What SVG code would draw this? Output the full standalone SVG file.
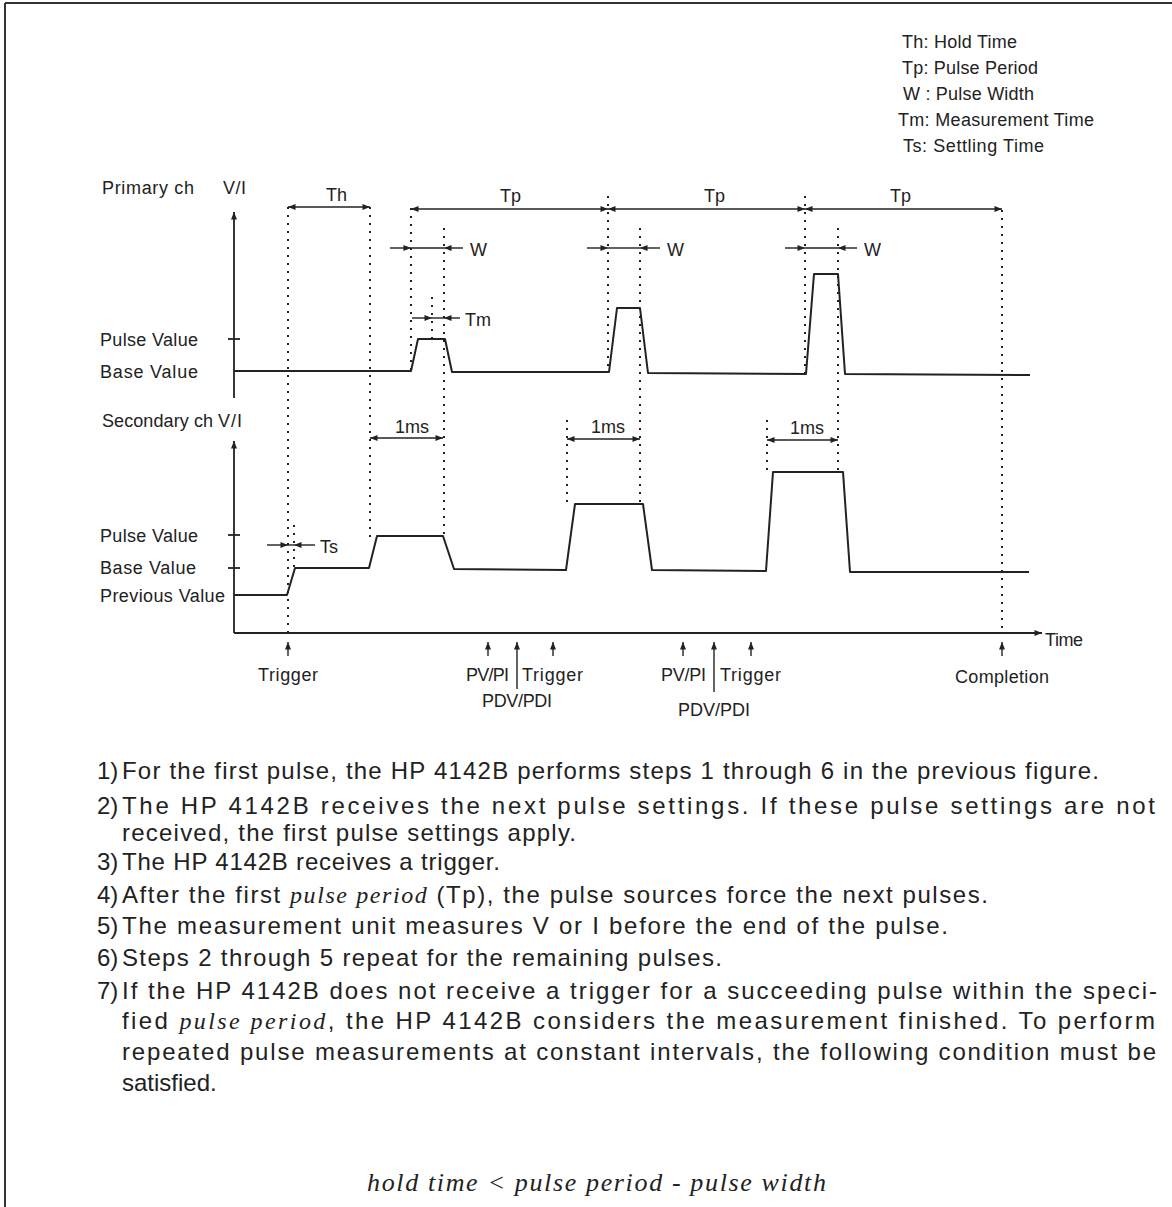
<svg xmlns="http://www.w3.org/2000/svg" width="1172" height="1207" viewBox="0 0 1172 1207">
<defs>
<style>
.t{font-family:"Liberation Sans",Arial,sans-serif;font-size:18px;fill:#222}
.p{font-family:"Liberation Sans",Arial,sans-serif;font-size:24px;fill:#222}
.i{font-family:"Liberation Serif","Times New Roman",serif;font-style:italic}
.ln{fill:none;stroke:#222;stroke-width:1.8}
.dim{fill:none;stroke:#222;stroke-width:1.4}
.dot{fill:none;stroke:#222;stroke-width:2;stroke-dasharray:2 6}
.wave{fill:none;stroke:#222;stroke-width:2;stroke-linejoin:round}
</style>
<marker id="ah" viewBox="0 0 10 8" refX="10" refY="4" markerWidth="9" markerHeight="6" markerUnits="userSpaceOnUse" orient="auto-start-reverse">
<path d="M0,0 L10,4 L0,8 Z" fill="#222"/>
</marker>
</defs>
<rect width="1172" height="1207" fill="#fff"/>
<g id="frame">
<line x1="5" y1="3" x2="1172" y2="3" stroke="#333" stroke-width="2"/>
<line x1="5" y1="3" x2="5" y2="1207" stroke="#333" stroke-width="2"/>
</g>

<g id="legend" class="t">
<text x="902" y="48" textLength="115">Th: Hold Time</text>
<text x="902" y="74" textLength="136">Tp: Pulse Period</text>
<text x="903" y="100" textLength="131">W : Pulse Width</text>
<text x="898" y="126" textLength="196">Tm: Measurement Time</text>
<text x="903" y="152" textLength="141">Ts: Settling Time</text>
</g>

<g id="labels" class="t">
<text x="102" y="194" textLength="92">Primary ch</text>
<text x="223" y="194" textLength="23">V/I</text>
<text x="100" y="346" textLength="98">Pulse Value</text>
<text x="100" y="378" textLength="98">Base Value</text>
<text x="102" y="427" textLength="111">Secondary ch</text>
<text x="218" y="427" textLength="24">V/I</text>
<text x="100" y="542" textLength="98">Pulse Value</text>
<text x="100" y="574" textLength="96">Base Value</text>
<text x="100" y="602" textLength="125">Previous Value</text>
<text x="1045" y="646" textLength="38">Time</text>
</g>

<g id="axes">
<line class="ln" x1="234" y1="398" x2="234" y2="212" marker-end="url(#ah)"/>
<line class="ln" x1="228" y1="339" x2="240" y2="339"/>
<line class="ln" x1="234" y1="633" x2="234" y2="441" marker-end="url(#ah)"/>
<line class="ln" x1="234" y1="633" x2="1042" y2="633" marker-end="url(#ah)"/>
<line class="ln" x1="228" y1="535" x2="240" y2="535"/>
<line class="ln" x1="228" y1="568" x2="240" y2="568"/>
</g>

<g id="guides">
<line class="dot" x1="288" y1="207" x2="288" y2="632"/>
<line class="dot" x1="370" y1="207" x2="370" y2="537"/>
<line class="dot" x1="411" y1="208" x2="411" y2="372"/>
<line class="dot" x1="444" y1="228" x2="444" y2="537"/>
<line class="dot" x1="432" y1="297" x2="432" y2="340"/>
<line class="dot" x1="608" y1="196" x2="608" y2="372"/>
<line class="dot" x1="640" y1="228" x2="640" y2="504"/>
<line class="dot" x1="567" y1="420" x2="567" y2="504"/>
<line class="dot" x1="805" y1="196" x2="805" y2="375"/>
<line class="dot" x1="838" y1="228" x2="838" y2="472"/>
<line class="dot" x1="767" y1="420" x2="767" y2="472"/>
<line class="dot" x1="1002" y1="210" x2="1002" y2="632"/>
<line class="dot" x1="294" y1="525" x2="294" y2="568"/>
</g>

<g id="primary-wave">
<polyline class="wave" points="234,371 411,371 418,339 445,339 452,372 609,372 617,308 640,308 648,373 806,374 814,274 838,274 845,374 1030,375"/>
</g>
<g id="secondary-wave">
<polyline class="wave" points="234,595 287,595 295,568 369,568 377,536 443,536 454,569 566,570 575,504 643,504 652,570 766,571 773,472 843,472 850,572 1029,572"/>
</g>

<g id="dimensions">
<line class="dim" x1="329" y1="207" x2="288" y2="207" marker-end="url(#ah)"/>
<line class="dim" x1="329" y1="207" x2="370" y2="207" marker-end="url(#ah)"/>
<line class="dim" x1="510" y1="209" x2="411" y2="209" marker-end="url(#ah)"/>
<line class="dim" x1="510" y1="209" x2="608" y2="209" marker-end="url(#ah)"/>
<line class="dim" x1="706" y1="209" x2="608" y2="209" marker-end="url(#ah)"/>
<line class="dim" x1="706" y1="209" x2="805" y2="209" marker-end="url(#ah)"/>
<line class="dim" x1="903" y1="209" x2="805" y2="209" marker-end="url(#ah)"/>
<line class="dim" x1="903" y1="209" x2="1002" y2="209" marker-end="url(#ah)"/>
<line class="dim" x1="390" y1="248" x2="411" y2="248" marker-end="url(#ah)"/>
<line class="dim" x1="411" y1="248" x2="444" y2="248"/>
<line class="dim" x1="463" y1="248" x2="444" y2="248" marker-end="url(#ah)"/>
<line class="dim" x1="587" y1="248" x2="608" y2="248" marker-end="url(#ah)"/>
<line class="dim" x1="608" y1="248" x2="640" y2="248"/>
<line class="dim" x1="660" y1="248" x2="640" y2="248" marker-end="url(#ah)"/>
<line class="dim" x1="785" y1="248" x2="805" y2="248" marker-end="url(#ah)"/>
<line class="dim" x1="805" y1="248" x2="838" y2="248"/>
<line class="dim" x1="857" y1="248" x2="838" y2="248" marker-end="url(#ah)"/>
<line class="dim" x1="412" y1="318" x2="432" y2="318" marker-end="url(#ah)"/>
<line class="dim" x1="432" y1="318" x2="444" y2="318"/>
<line class="dim" x1="460" y1="318" x2="444" y2="318" marker-end="url(#ah)"/>
<line class="dim" x1="267" y1="545" x2="288" y2="545" marker-end="url(#ah)"/>
<line class="dim" x1="288" y1="545" x2="294" y2="545"/>
<line class="dim" x1="315" y1="545" x2="294" y2="545" marker-end="url(#ah)"/>
<line class="dim" x1="406" y1="438" x2="370" y2="438" marker-end="url(#ah)"/>
<line class="dim" x1="406" y1="438" x2="443" y2="438" marker-end="url(#ah)"/>
<line class="dim" x1="603" y1="439" x2="567" y2="439" marker-end="url(#ah)"/>
<line class="dim" x1="603" y1="439" x2="640" y2="439" marker-end="url(#ah)"/>
<line class="dim" x1="802" y1="440" x2="767" y2="440" marker-end="url(#ah)"/>
<line class="dim" x1="802" y1="440" x2="838" y2="440" marker-end="url(#ah)"/>
</g>

<g id="dim-labels" class="t">
<text x="326" y="201">Th</text>
<text x="500" y="202">Tp</text>
<text x="704" y="202">Tp</text>
<text x="890" y="202">Tp</text>
<text x="470" y="256">W</text>
<text x="667" y="256">W</text>
<text x="864" y="256">W</text>
<text x="465" y="326">Tm</text>
<text x="320" y="553">Ts</text>
<text x="395" y="433">1ms</text>
<text x="591" y="433">1ms</text>
<text x="790" y="434">1ms</text>
</g>

<g id="events">
<line class="dim" x1="288" y1="656" x2="288" y2="642" marker-end="url(#ah)"/>
<line class="dim" x1="488" y1="656" x2="488" y2="642" marker-end="url(#ah)"/>
<line class="dim" x1="517" y1="689" x2="517" y2="642" marker-end="url(#ah)"/>
<line class="dim" x1="553" y1="656" x2="553" y2="642" marker-end="url(#ah)"/>
<line class="dim" x1="683" y1="656" x2="683" y2="642" marker-end="url(#ah)"/>
<line class="dim" x1="714" y1="692" x2="714" y2="642" marker-end="url(#ah)"/>
<line class="dim" x1="751" y1="656" x2="751" y2="642" marker-end="url(#ah)"/>
<line class="dim" x1="1002" y1="656" x2="1002" y2="642" marker-end="url(#ah)"/>
</g>
<g id="event-labels" class="t">
<text x="258" y="681" textLength="60">Trigger</text>
<text x="466" y="681" textLength="43">PV/PI</text>
<text x="522" y="681" textLength="61">Trigger</text>
<text x="482" y="707" textLength="70">PDV/PDI</text>
<text x="661" y="681" textLength="45">PV/PI</text>
<text x="720" y="681" textLength="61">Trigger</text>
<text x="678" y="716" textLength="72">PDV/PDI</text>
<text x="955" y="683" textLength="94">Completion</text>
</g>

<g id="steps" class="p">
<text x="97" y="779">1)</text>
<text x="122" y="779" textLength="977">For the first pulse, the HP 4142B performs steps 1 through 6 in the previous figure.</text>
<text x="97" y="814">2)</text>
<text x="122" y="814" textLength="1033">The HP 4142B receives the next pulse settings.  If these pulse settings are not</text>
<text x="122" y="841" textLength="454">received, the first pulse settings apply.</text>
<text x="97" y="870">3)</text>
<text x="122" y="870" textLength="378">The HP 4142B receives a trigger.</text>
<text x="97" y="903">4)</text>
<text x="122" y="903" textLength="866">After the first <tspan class="i">pulse period</tspan> (Tp), the pulse sources force the next pulses.</text>
<text x="97" y="934">5)</text>
<text x="122" y="934" textLength="826">The measurement unit measures V or I before the end of the pulse.</text>
<text x="97" y="966">6)</text>
<text x="122" y="966" textLength="600">Steps 2 through 5 repeat for the remaining pulses.</text>
<text x="97" y="999">7)</text>
<text x="122" y="999" textLength="1035">If the HP 4142B does not receive a trigger for a succeeding pulse within the speci-</text>
<text x="122" y="1029" textLength="1033">fied <tspan class="i">pulse period</tspan>, the HP 4142B considers the measurement finished.  To perform</text>
<text x="122" y="1060" textLength="1034">repeated pulse measurements at constant intervals, the following condition must be</text>
<text x="122" y="1091">satisfied.</text>
<text x="367" y="1191" class="i" font-size="26" textLength="459">hold time &lt; pulse period - pulse width</text>
</g>
</svg>
